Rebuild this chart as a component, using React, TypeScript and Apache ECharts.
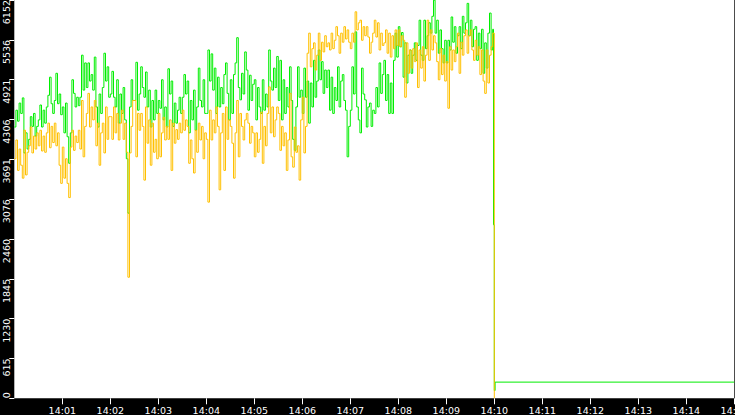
import { useEffect, useRef } from 'react'
import * as echarts from 'echarts'

// one sample every 2 s from 14:00:00
const STEP_SEC = 2

const greenValues = [
  4190, 4450, 4280, 4560, 4400, 4640, 3790, 4100, 3850, 4000, 4350, 4200, 4400, 4050, 4200,
  4300, 4530, 4190, 4450, 4250, 4500, 4680, 4960, 4550, 4400, 4600, 5020, 4550, 4700, 4380,
  4500, 4100, 4560, 4040, 3630, 4100, 4920, 4710, 4500, 4650, 4520, 4650, 5300, 4760, 5180,
  4800, 5180, 4900, 5000, 4760, 5270, 4500, 4190, 4700, 4400, 4800, 5330, 4900, 5120, 4650,
  4700, 5050, 4650, 4500, 4920, 4250, 4700, 4400, 4800, 4300, 3700, 2860, 4500, 4920, 4600,
  4600, 5190, 4450, 4700, 5120, 4800, 4650, 5040, 4500, 4760, 4190, 4600, 4300, 4760, 4400,
  4600, 4480, 4920, 4300, 4500, 4190, 5090, 4700, 4900, 4200, 4560, 4250, 4450, 4650, 4400,
  4650, 5000, 4700, 4900, 4100, 4600, 4300, 4760, 4140, 4500, 5100, 4600, 4500, 4920, 4400,
  4400, 5380, 4900, 5320, 4760, 5100, 4400, 4960, 4500, 4800, 4550, 5000, 5180, 4710, 4300,
  4920, 4400, 5000, 5180, 5570, 4800, 4610, 5020, 4700, 5350, 5070, 4450, 4990, 4600, 4850,
  4920, 4300, 4800, 4500, 4400, 4920, 4450, 4700, 4500, 5380, 4900, 4760, 5100, 4800, 5280,
  4600, 5220, 4300, 4920, 4400, 4800, 4500, 5120, 4600, 4000, 3830, 4500, 5120, 4650, 4760,
  4400, 5100, 4650, 4900, 4250, 4870, 4500, 5220, 4650, 4900, 5380, 4920, 5200, 4710, 5070,
  4800, 5070, 4450, 4960, 4400, 4800, 4600, 5120, 4500, 4900, 5000, 4600, 4450, 3730, 4200,
  4450, 5120, 4700, 5660, 4500, 4300, 4100, 5100, 4700, 4610, 4190, 4500, 4560, 4200, 4450,
  4400, 4800, 4500, 5180, 4710, 5000, 5220, 4600, 5000, 4400, 4870, 4400, 5220, 5640, 5270,
  5740, 5430, 5650, 4960, 5490, 4870, 5300, 5380, 5020, 5300, 5490, 5220, 5450, 5840, 5300,
  5220, 5840, 5400, 5600, 5800, 5640, 5900, 6150, 5640, 5840, 5330, 5690, 5400, 5180, 5530,
  5180, 5530, 5380, 5890, 5500, 5740, 5330, 5600, 5740, 5400, 5900, 5640, 5800, 6100, 5600,
  5840, 5430, 5700, 5740, 5220, 5640, 5400, 5700, 5020, 5490, 5100, 5640, 5950, 5380, 5700,
]

const orangeValues = [
  3700, 3990, 3520, 3850, 3600, 3400, 4140, 3450, 3800, 3900, 4190, 3790, 4050, 3850, 4100,
  3900, 4140, 3820, 4050, 3800, 4100, 4250, 3870, 4200, 3950, 4250, 3900, 4100, 3600, 3320,
  3880, 3400, 3700, 3320, 3100, 3880, 4140, 3830, 4050, 3950, 4140, 3850, 4600, 3730, 4200,
  4400, 4710, 4190, 4500, 4300, 4600, 3900, 4250, 3600, 4100, 4250, 3790, 4500, 4000, 4350,
  4350, 4000, 4500, 4100, 4400, 3990, 4250, 4450, 4000, 4250, 3800, 1870, 3790, 4200, 4600,
  4600, 3730, 4400, 4140, 4400, 4200, 3370, 4500, 3940, 4300, 3600, 4250, 3800, 4000, 3700,
  4400, 3730, 4100, 4340, 3990, 4200, 4000, 4300, 3520, 4250, 3940, 4150, 4000, 4250, 4100,
  4450, 4140, 4300, 4200, 3630, 3990, 3700, 3480, 4140, 3800, 4250, 3990, 4200, 3700, 4100,
  4000, 3030, 4450, 3990, 4300, 4100, 4500, 4200, 3220, 4100, 4400, 3520, 4500, 4000, 4300,
  4200, 3940, 3400, 4100, 4600, 3730, 4400, 4200, 3990, 4300, 4400, 4250, 3940, 4200, 4100,
  3730, 4100, 3800, 4000, 4420, 3630, 4200, 3900, 4400, 4810, 4100, 4500, 4040, 4300, 4500,
  4400, 3830, 4200, 3900, 4100, 3520, 3990, 4710, 3730, 3570, 4190, 3800, 3900, 3370, 4300,
  4650, 3790, 4200, 5330, 5640, 5120, 5400, 5490, 5070, 5300, 5640, 5220, 5500, 5350, 5600,
  5430, 5490, 5380, 5640, 5400, 5530, 5740, 5600, 5330, 5640, 5500, 5740, 5550, 5690, 5500,
  5400, 5640, 5500, 5970, 5690, 5800, 5840, 5530, 5740, 5600, 5740, 5580, 5330, 5500, 5640,
  5840, 5580, 5800, 5380, 5640, 5450, 5490, 5690, 5330, 5640, 5270, 5600, 5400, 5690, 5450,
  5690, 5430, 5600, 5530, 4650, 5490, 5020, 5380, 5100, 5400, 5200, 5490, 4800, 5380, 5100,
  5430, 4900, 5300, 5840, 5220, 5690, 5380, 5600, 5490, 5200, 4920, 5400, 5000, 5300, 4900,
  5200, 4480, 5430, 5070, 5380, 5200, 5430, 5640, 5020, 5500, 5300, 5600, 5690, 5330, 5600,
  5690, 5380, 5220, 5530, 5300, 5430, 5000, 5380, 4900, 4710, 5380, 4870, 5300, 5430, 5640,
]

// what happens at 14:10 and after (seconds since 14:00)
const greenTailSec = [599, 600, 601, 900]
const greenTailValues = [2680, 120, 250, 250]
const orangeTailSec = [600]
const orangeTailValues = [0]

const xTickLabels = [
  '14:00', '14:01', '14:02', '14:03', '14:04', '14:05', '14:06', '14:07',
  '14:08', '14:09', '14:10', '14:11', '14:12', '14:13', '14:14', '14:15',
]
const yTickLabels = ['0', '615', '1230', '1845', '2460', '3076', '3691', '4306', '4921', '5536', '6152']

const X_MAX = 900
const X_STEP = 60
const Y_MAX = 6152
const Y_STEP = 615.2

const toPoints = (vals: number[], tailSec: number[], tailVals: number[]) => [
  ...vals.map((v, i) => [i * STEP_SEC, v]),
  ...tailSec.map((s, i) => [s, tailVals[i]]),
]

const App = () => {
  const chartRef = useRef<HTMLDivElement>(null)

  useEffect(() => {
    if (!chartRef.current) return
    const chart = echarts.init(chartRef.current, null, { renderer: 'svg' })

    chart.setOption({
      animation: false,
      backgroundColor: '#000',
      textStyle: { fontFamily: 'DejaVu Sans' },
      grid: {
        left: 14.3,
        right: 0.7,
        top: 0,
        bottom: 16.7,
        outerBoundsMode: 'none',
        containLabel: false,
        show: true,
        backgroundColor: '#fff',
        borderWidth: 0,
      },
      xAxis: {
        type: 'value',
        min: 0,
        max: X_MAX,
        interval: X_STEP,
        axisLine: { show: false },
        axisTick: { show: true, length: 6, lineStyle: { color: '#fff' } },
        splitLine: { show: false },
        axisLabel: {
          color: '#fff',
          fontSize: 9.5,
          margin: 7,
          showMinLabel: false,
          showMaxLabel: true,
          hideOverlap: false,
          formatter: (v: number) => xTickLabels[Math.round(v / X_STEP)],
        },
      },
      yAxis: {
        type: 'value',
        min: 0,
        max: Y_MAX,
        interval: Y_STEP,
        axisLine: { show: false },
        axisTick: { show: true, length: 5, lineStyle: { color: '#fff' } },
        splitLine: { show: false },
        axisLabel: {
          color: '#fff',
          fontSize: 9.5,
          rotate: 90,
          align: 'right',
          verticalAlign: 'bottom',
          alignMinLabel: 'left',
          margin: 3,
          formatter: (v: number) => yTickLabels[Math.round(v / Y_STEP)],
        },
      },
      series: [
        {
          type: 'line',
          data: toPoints(greenValues, greenTailSec, greenTailValues),
          step: 'end',
          showSymbol: false,
          lineStyle: { color: '#00ee00', width: 1 },
          itemStyle: { color: '#00ee00' },
        },
        {
          type: 'line',
          data: toPoints(orangeValues, orangeTailSec, orangeTailValues),
          step: 'end',
          showSymbol: false,
          lineStyle: { color: '#ffc000', width: 1 },
          itemStyle: { color: '#ffc000' },
        },
      ],
    })

    return () => chart.dispose()
  }, [])

  return (
    <div
      ref={chartRef}
      style={{ position: 'fixed', left: 0, top: 0, width: 735, height: 415 }}
    />
  )
}

export default App
